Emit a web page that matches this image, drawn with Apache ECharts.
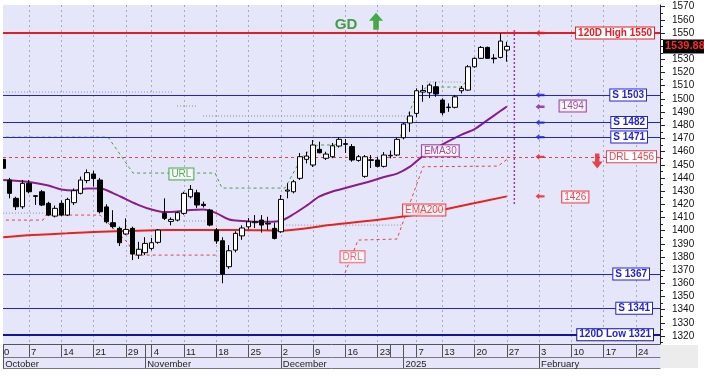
<!DOCTYPE html>
<html><head><meta charset="utf-8">
<script src="https://cdn.jsdelivr.net/npm/echarts@6/dist/echarts.min.js"></script>
<style>html,body{margin:0;padding:0;background:#fff}#c{width:704px;height:380px}</style>
</head><body><div id="c"></div>
<script>
// ---------------- DATA ----------------
const dates = ['10-01','10-02','10-03','10-04','10-07','10-08','10-09','10-10','10-11','10-14','10-15','10-16','10-17','10-18',
'10-21','10-22','10-23','10-24','10-25','10-29','10-30','10-31','11-01','11-04','11-05','11-06','11-07','11-08','11-11','11-12',
'11-13','11-14','11-15','11-18','11-19','11-20','11-21','11-22','11-25','11-26','11-27','11-28','11-29','12-02','12-03','12-04',
'12-05','12-06','12-09','12-10','12-11','12-12','12-13','12-16','12-17','12-18','12-19','12-20','12-23','12-27','12-30','12-31',
'01-02','01-03','01-07','01-08','01-09','01-10','01-13','01-14','01-15','01-16','01-17','01-20','01-21','01-22','01-23','01-24','01-27'];
const open  = [1454.1,1438.4,1424.5,1418.1,1435.9,1426.5,1429.5,1420.7,1411.0,1420.7,1411.8,1421.2,1428.3,1438.0,1443.0,1438.4,1418.0,1406.0,1401.7,1397.4,
1401.7,1381.4,1383.2,1386.5,1391.1,1413.1,1407.0,1408.0,1413.1,1425.7,1428.7,1420.0,1415.6,1400.4,1392.3,1372.6,1385.2,1396.0,1402.9,1406.0,
1408.0,1405.5,1401.7,1399.1,1430.0,1429.5,1439.7,1454.1,1449.8,1461.7,1454.9,1456.1,1464.2,1466.0,1463.8,1453.3,1441.2,1453.3,1453.6,1448.8,
1456.8,1457.4,1470.5,1481.7,1489.0,1505.2,1504.7,1509.2,1499.1,1493.4,1493.6,1506.2,1506.7,1524.4,1530.8,1539.1,1531.0,1531.5,1537.1];
const close = [1447.3,1428.3,1418.1,1435.9,1429.5,1426.0,1419.4,1411.8,1416.9,1411.8,1423.7,1430.3,1438.4,1444.0,1439.5,1414.3,1406.7,1403.0,1390.8,1400.9,
1382.2,1385.8,1390.3,1390.8,1400.4,1409.3,1408.5,1413.6,1428.3,1431.3,1419.4,1419.0,1404.2,1392.1,1367.0,1384.7,1397.9,1402.0,1406.7,1406.8,
1404.2,1405.0,1394.1,1423.7,1430.8,1437.1,1456.1,1456.6,1465.0,1459.1,1458.1,1464.4,1469.3,1465.5,1453.6,1456.1,1456.1,1453.8,1448.8,1457.4,
1457.2,1469.3,1480.9,1487.0,1506.2,1506.4,1510.5,1503.7,1489.5,1493.8,1501.6,1508.0,1524.4,1530.8,1539.1,1530.8,1530.5,1543.9,1539.88];
const low   = [1447.0,1424.5,1415.6,1416.5,1428.3,1419.5,1418.6,1411.0,1410.0,1411.0,1411.0,1419.5,1427.5,1436.0,1433.5,1413.0,1405.5,1401.7,1388.3,1396.6,
1377.6,1378.5,1381.4,1385.0,1390.0,1408.0,1404.0,1407.0,1412.0,1424.5,1417.0,1417.5,1403.3,1390.0,1360.0,1371.0,1383.5,1393.0,1401.0,1402.0,
1398.5,1400.5,1393.3,1398.3,1424.5,1428.3,1438.4,1451.0,1448.3,1458.7,1453.6,1455.0,1463.0,1459.0,1452.3,1452.3,1440.1,1447.5,1447.9,1447.9,
1454.9,1456.6,1469.3,1475.0,1486.0,1497.8,1500.6,1501.6,1487.7,1490.2,1492.8,1504.2,1506.2,1523.7,1530.3,1530.3,1527.0,1530.8,1528.2];
const high  = [1459.5,1440.0,1425.7,1438.5,1438.4,1427.0,1430.8,1421.9,1419.0,1423.0,1425.0,1432.0,1441.0,1446.5,1445.5,1440.0,1420.0,1415.5,1403.0,1409.3,
1403.0,1391.5,1395.0,1394.5,1401.0,1424.5,1410.0,1414.5,1429.5,1434.6,1431.0,1422.0,1416.5,1402.0,1395.0,1389.0,1399.5,1404.0,1409.5,1411.8,
1411.8,1410.5,1406.0,1427.0,1435.9,1438.5,1458.9,1459.9,1468.8,1467.5,1459.9,1466.5,1471.0,1469.5,1465.7,1457.4,1457.4,1457.4,1455.8,1459.6,
1460.8,1470.7,1481.9,1490.2,1508.0,1510.5,1511.8,1513.0,1500.4,1496.6,1502.9,1509.8,1525.7,1531.5,1540.1,1539.7,1534.0,1550.0,1543.4];

// moving averages (trading-day index, value)
const ema30Idx = [1,5,8,10,12,14,16,18,20,22,24,26,28,30,32,34,36,38,40,42,44,46,48,50,52,54,56,58,60,62,64,66,68,70,72,74,76,78,79];
const ema30Val = [1438.4,1436.9,1434.2,1431.2,1430.4,1431.9,1431.9,1428.5,1423.9,1419.4,1416.0,1414.1,1414.5,1415.6,1416.0,1413.3,1408.4,1407.3,1406.7,1406.7,
1407.5,1412.6,1419.0,1425.9,1429.7,1432.3,1435.0,1437.6,1440.7,1443.3,1448.6,1456.6,1462.7,1468.0,1472.9,1477.1,1483.9,1490.8,1494.2];
const ema200Idx = [1,5.6,10.9,16,21.1,26.4,31.5,37.7,43.9,51.6,59.4,67.1,73.3,79];
const ema200Val = [1395.0,1396.6,1397.9,1399.1,1399.9,1400.4,1400.4,1400.4,1400.0,1404.2,1408.4,1414.0,1420.2,1426.0];

// channel lines
const urlIdx = [0.5,17.24,21.11,33.81,34.89,44.65,47.28,48.52,49.76,52.39,53.17,62.46,64.01,65.25,66.64,72.06,72.99];
const urlVal = [1471.0,1471.0,1443.7,1443.7,1432.3,1432.3,1455.8,1461.2,1465.0,1465.0,1470.7,1470.7,1491.5,1504.4,1509.0,1509.0,1515.8];
const drlAIdx = [0.5,7.17,7.64,16.0,20.33,21.42,33.96];
const drlAVal = [1408.0,1408.0,1411.8,1411.8,1390.5,1381.4,1381.4];
const drlBIdx = [53.94,55.95,61.99,66.02,77.64,79.5];
const drlBVal = [1367.8,1392.8,1393.6,1448.5,1449.0,1455.8];
const trailFrom = [0.5,27.92,31.95,66.6,0.5,28.85,43.9];
const trailTo   = [27.15,31.17,64.32,72.2,7.5,33.5,62.9];
const trailVal  = [1505.2,1494.6,1487.0,1512.8,1413.3,1407.3,1404.2];
const markerIdx = 80.16, markerTop = 1552.3, markerBottom = 1419.4;

// horizontal levels
const levelVal   = [1550,1503,1482,1471,1456,1367,1341,1321];
const levelText  = ['120D High 1550','S 1503','S 1482','S 1471','DRL 1456','S 1367','S 1341','120D Low 1321'];
const lastPrice = 1539.88;

// axis ticks
const weekTickIdx = [5,10,15,20,24,29,34,39,44,49,54,59,61,65,69,74,79,84,89,94,99];
const weekTickLabels = ['7','14','21','29','4','11','18','25','2','9','16','23','','7','13','20','27','3','10','17','24'];
const monthIdx = [1,23,44,63,84];
const monthLabels = ['October','November','December','2025','February'];
const firstTickLabel = '30';
const priceTicks = [1320,1330,1340,1350,1360,1370,1380,1390,1400,1410,1420,1430,1440,1450,1460,1470,1480,1490,1500,1510,1520,1530,1540,1550,1560,1570];

// annotations
const arrowIdx = 84.14;
const arrowVal = [1550,1503,1494,1482,1471,1456,1426];
const annIdx  = [28.6,55.1,68.7,66.2,89.2,89.6];
const annVal  = [1443,1380.1,1460.6,1415.6,1494.6,1425.5];
const annText = ['URL','DRL','EMA30','EMA200', String(Math.round(ema30Val[ema30Val.length-1])), String(Math.round(ema200Val[ema200Val.length-1]))];

// ---------------- STYLE ----------------
const FONT = '"Liberation Sans", Arial, sans-serif';
const RED = '#e51c23', BLUE = '#2323d6', NAVY = '#12129a', PURPLE = '#8a1c8a', GREEN = '#2f9a2f', PINK = '#e8404c';
const X_MIN = 0.973, X_MAX = 102.72, Y_MIN = 1313.9, Y_MAX = 1571.3;
const arrowColors = [RED,BLUE,PURPLE,BLUE,BLUE,RED,RED];
const annColors = [GREEN,PINK,PURPLE,RED,PURPLE,RED];
const levelColors = [RED,BLUE,BLUE,BLUE,PINK,BLUE,BLUE,NAVY];
const levelWidth = [2,1,1,1,1,1,1,2];
const levelType = ['solid','solid','solid','solid',[3,3],'solid','solid','solid'];
const levelBold = [true,true,true,true,false,true,true,true];
const levelDist = [6,14,13,13,4,11,8,7];

const chart = echarts.init(document.getElementById('c'), null, {renderer:'canvas', width:704, height:380});

const labelOf = v => { const k = weekTickIdx.indexOf(Math.round(v)); return k >= 0 ? weekTickLabels[k] : ''; };
const monthOf = v => { const k = monthIdx.indexOf(Math.round(v)); return k >= 0 ? monthLabels[k] : ''; };
const minorTicks = priceTicks.map(v => v - 5);

const baseX = {type:'value', min:X_MIN, max:X_MAX, gridIndex:0, position:'bottom', splitLine:{show:false}};

const candleData = dates.map((d,i) => [i+1, open[i], close[i], low[i], high[i]]);

const markLineData = levelVal.map((v,i) => ({
  yAxis: v,
  lineStyle: {color: levelColors[i], width: levelWidth[i], type: levelType[i]},
  label: {show:true, position:'insideEnd', formatter: levelText[i], distance:[levelDist[i],0],
    color: levelColors[i] === NAVY ? BLUE : levelColors[i], fontFamily: FONT, fontSize: 10,
    fontWeight: levelBold[i] ? 'bold' : 'normal', backgroundColor:'#ffffff',
    borderColor: levelColors[i], borderWidth:1, padding:[1,2,0,2], lineHeight:10}
}));

const dashedSeries = (idx, val, color, type, width) => ({
  type:'line', data: idx.map((x,i) => [x, val[i]]), showSymbol:false, symbol:'none', silent:true,
  lineStyle:{color, type, width: width || 1}, z:2
});

const trailSeries = trailFrom.map((f,i) => dashedSeries([f, trailTo[i]], [trailVal[i], trailVal[i]], '#8e8ea0', [1,2], 1));

const option = {
  animation:false,
  backgroundColor:'#ffffff',
  grid:{left:3, right:44, top:5, bottom:36, show:true, backgroundColor:'#e6e6fa', borderWidth:0},
  xAxis:[
    Object.assign({}, baseX, {
      axisLine:{show:true, lineStyle:{color:'#555', width:1}},
      axisTick:{show:true, customValues: weekTickIdx, length:13, lineStyle:{color:'#555'}},
      axisLabel:{show:true, customValues: weekTickIdx.filter((v,i)=>weekTickLabels[i] !== ''), formatter: labelOf,
        align:'left', padding:[0,0,0,2], margin:3, fontSize:9.5, color:'#222', fontFamily:FONT}
    }),
    Object.assign({}, baseX, {
      axisLine:{show:false},
      axisTick:{show:true, customValues: monthIdx, length:24, lineStyle:{color:'#555'}},
      axisLabel:{show:true, customValues: monthIdx, formatter: monthOf,
        align:'left', padding:[0,0,0,2], margin:15, fontSize:9.5, color:'#222', fontFamily:FONT}
    }),
    Object.assign({}, baseX, {offset:13, axisLine:{show:true, lineStyle:{color:'#777'}}, axisTick:{show:false}, axisLabel:{show:false}}),
    Object.assign({}, baseX, {offset:24, axisLine:{show:true, lineStyle:{color:'#777'}}, axisTick:{show:false}, axisLabel:{show:false}}),
    Object.assign({}, baseX, {axisLine:{show:false}, axisLabel:{show:false},
      axisTick:{show:false, customValues: weekTickIdx.filter(v => v !== 61)},
      splitLine:{show:true, lineStyle:{color:'#a9a9bd', type:[2,3], width:1}}})
  ],
  yAxis:[
    {type:'value', min:Y_MIN, max:Y_MAX, position:'right', gridIndex:0,
      axisLine:{show:true, lineStyle:{color:'#222'}},
      axisTick:{show:true, customValues: priceTicks, length:5, lineStyle:{color:'#222'}},
      axisLabel:{show:true, customValues: priceTicks, margin:12, fontSize:10, color:'#111', fontFamily:FONT, formatter: v => String(Math.round(v))},
      splitLine:{show:false}},
    {type:'value', min:Y_MIN, max:Y_MAX, position:'right', gridIndex:0,
      axisLine:{show:false}, axisLabel:{show:false}, splitLine:{show:false},
      axisTick:{show:true, customValues: minorTicks, length:3, lineStyle:{color:'#222'}}}
  ],
  series: trailSeries.concat([
    dashedSeries(drlAIdx, drlAVal, PINK, [3,3], 1),
    dashedSeries(drlBIdx, drlBVal, PINK, [3,3], 1),
    dashedSeries(urlIdx, urlVal, '#48a048', [3,3], 1),
    {type:'line', data: ema200Idx.map((x,i)=>[x, ema200Val[i]]), smooth:0.3, showSymbol:false, symbol:'none',
      lineStyle:{color:'#e8231f', width:2}, z:3, silent:true},
    {type:'line', data: ema30Idx.map((x,i)=>[x, ema30Val[i]]), smooth:0.3, showSymbol:false, symbol:'none',
      lineStyle:{color:PURPLE, width:2}, z:3, silent:true},
    dashedSeries([markerIdx, markerIdx], [markerTop, markerBottom], '#a03ca0', [2,2], 1.5),
    {type:'candlestick', data: candleData, encode:{x:0, y:[1,2,3,4]}, barWidth:5, z:5, silent:true,
      itemStyle:{color:'#ffffff', color0:'#000000', borderColor:'#000000', borderColor0:'#000000', borderWidth:1},
      markLine:{silent:true, symbol:['none','none'], animation:false, data: markLineData}},
    {type:'line', data:[], silent:true, z:20, zlevel:1,
      markLine:{silent:true, symbol:['none','none'], animation:false, data:[{
        yAxis: lastPrice,
        lineStyle: {color:'rgba(0,0,0,0)', width:1},
        label: {show:true, position:'end', distance:3, formatter: lastPrice.toFixed(2), color:'#ff2a2a',
          fontFamily: FONT, fontSize: 11, fontWeight:'bold', backgroundColor:'#000', padding:[2,2,1,2], lineHeight:11}
      }]}},
    {type:'scatter', silent:true, z:6,
      data: arrowVal.map((v,i)=>({value:[arrowIdx, v], itemStyle:{color: arrowColors[i]}})),
      symbol:'path://M0,5L5,0L5,3L12,3L12,7L5,7L5,10Z', symbolSize:[9,6]},
    {type:'scatter', silent:true, z:6, data:[[93.0, 1452.8]], itemStyle:{color:RED},
      symbol:'path://M3,0L7,0L7,8L10,8L5,15L0,8L3,8Z', symbolSize:[11,15]},
    {type:'scatter', silent:true, z:6, data:[[58.74, 1558.9]], itemStyle:{color:'#1d9a1d'},
      symbol:'path://M5,0L10,7L7,7L7,15L3,15L3,7L0,7Z', symbolSize:[14,17]},
    {type:'scatter', silent:true, z:6, data:[[54.1, 1556.1]], symbolSize:0,
      label:{show:true, position:'inside', formatter:'GD', color:'#1a8a1a', fontFamily:FONT, fontSize:15, fontWeight:'bold'}},
    {type:'scatter', silent:true, z:7, symbolSize:0,
      data: annIdx.map((x,i)=>({value:[x, annVal[i]], label:{color: annColors[i], borderColor: annColors[i]}})),
      label:{show:true, position:'inside', formatter: p => annText[p.dataIndex], fontFamily:FONT, fontSize:10,
        backgroundColor:'#ffffff', borderWidth:1, padding:[1,2,0,2], lineHeight:10}}
  ])
};
chart.setOption(option);

// partially clipped first week label and framing
const x0 = chart.convertToPixel({xAxisIndex:0}, 0);
chart.setOption({graphic:[
  {type:'rect', z:-10, silent:true, shape:{x:3, y:344, width:657, height:24}, style:{fill:'#e6e6fa'}},
  {type:'rect', z:-10, silent:true, shape:{x:660, y:345, width:38, height:23}, style:{fill:'#ececec'}},
  {type:'text', z:50, silent:true, x: x0 + 2, y: 347, style:{text:firstTickLabel, font:'9.5px ' + FONT, fill:'#222'}},
  {type:'rect', z:60, silent:true, shape:{x:0, y:0, width:3, height:380}, style:{fill:'#ffffff'}}
]});
</script></body></html>
